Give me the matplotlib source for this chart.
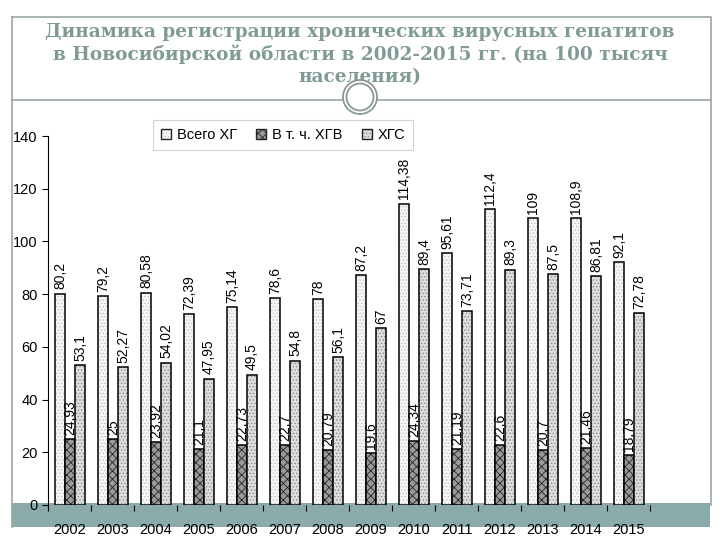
import matplotlib.pyplot as plt
import numpy as np
from matplotlib.patches import Patch, Circle, Rectangle

# data
years = ['2002', '2003', '2004', '2005', '2006', '2007', '2008',
         '2009', '2010', '2011', '2012', '2013', '2014', '2015']
vsego_hg = [80.2, 79.2, 80.58, 72.39, 75.14, 78.6, 78, 87.2, 114.38,
            95.61, 112.4, 109, 108.9, 92.1]
hgv = [24.93, 25, 23.92, 21.1, 22.73, 22.7, 20.79, 19.6, 24.34,
       21.19, 22.6, 20.7, 21.46, 18.79]
hgs = [53.1, 52.27, 54.02, 47.95, 49.5, 54.8, 56.1, 67, 89.4,
       73.71, 89.3, 87.5, 86.81, 72.78]
series_names = ['Всего ХГ', 'В т. ч. ХГВ', 'ХГС']
title_lines = ['Динамика регистрации хронических вирусных гепатитов',
               'в Новосибирской области в 2002-2015 гг. (на 100 тысяч',
               'населения)']

plt.rcParams['hatch.linewidth'] = 0.6
fig = plt.figure(figsize=(7.2, 5.4), dpi=100)

# slide background: frame, title, separator, circle, band
bg = fig.add_axes([0, 0, 1, 1], zorder=0)
bg.set_xlim(0, 720)
bg.set_ylim(540, 0)
bg.axis('off')
frame_col = '#9aa5a3'
bg.plot([12, 711, 711], [17, 17, 505], color=frame_col, lw=1.2)
bg.plot([12, 12], [17, 527], color=frame_col, lw=1.2)
bg.plot([12, 711], [100, 100], color=frame_col, lw=1.2)
bg.add_patch(Rectangle((12, 503), 698, 24, color='#8aaba9', lw=0))
for k, line in enumerate(title_lines):
    bg.text(360, 32 + k * 22.5, line, ha='center', va='center',
            fontsize=13.3, fontweight='bold', family='DejaVu Serif',
            color='#809a96')
bg.add_patch(Circle((360, 97), 17, facecolor='white', edgecolor='#8c9896', lw=1.3, zorder=5))
bg.add_patch(Circle((360, 97), 13.5, facecolor='none', edgecolor='#8c9896', lw=1.3, zorder=6))

# chart
ax = fig.add_axes([48 / 720, 1 - 505 / 540, 602 / 720, 369 / 540], zorder=1)
ax.patch.set_visible(False)

x = np.arange(len(years))
w = 0.233
offsets = [-w, 0, w]
styles = [('#f6f6f6', '#c4c4c4', '.....'),
          ('#9a9a9a', '#262626', 'xxxx'),
          ('#dedede', '#8c8c8c', '.....')]
handles = []
for vals, off, (fc, hc, h), name in zip([vsego_hg, hgv, hgs], offsets, styles, series_names):
    pos = x + 0.51 + off
    ax.bar(pos, vals, w, color=fc, edgecolor=hc, hatch=h, linewidth=0)
    ax.bar(pos, vals, w, fill=False, edgecolor='black', linewidth=1.1)
    for p, v in zip(pos, vals):
        ax.annotate(f'{v:g}'.replace('.', ','), (p, v), xytext=(0, 3),
                    textcoords='offset points', rotation=90, ha='center',
                    va='bottom', fontsize=10, family='Liberation Sans')
    handles.append((Patch(facecolor=fc, edgecolor=hc, hatch=h, lw=0),
                    Patch(fill=False, edgecolor='#222222', lw=1)))

ax.set_xlim(0, 14)
ax.set_ylim(0, 140)
ax.set_yticks(range(0, 141, 20))
ax.set_xticks(range(15))
ax.set_xticklabels([])
ax.set_xticks(x + 0.5, minor=True)
ax.set_xticklabels(years, minor=True, family='Liberation Sans', fontsize=10.5)
ax.tick_params(axis='x', which='minor', length=0, pad=13)
ax.tick_params(axis='x', which='major', length=4, direction='out')
ax.tick_params(axis='y', length=4, direction='out', labelsize=10.5)
for t in ax.get_yticklabels():
    t.set_family('Liberation Sans')
for s in ['top', 'right', 'bottom']:
    ax.spines[s].set_visible(False)

leg = fig.legend(handles, series_names, loc='upper left',
                 bbox_to_anchor=(153 / 720, 1 - 120 / 540), borderaxespad=0,
                 ncol=3, fancybox=False, edgecolor='#c8c8c8', handlelength=0.7,
                 handleheight=0.7, handletextpad=0.4, columnspacing=1.3,
                 borderpad=0.55, prop={'family': 'Liberation Sans', 'size': 10.5})
leg.get_frame().set_linewidth(0.8)

fig.savefig('out.png', dpi=100)
